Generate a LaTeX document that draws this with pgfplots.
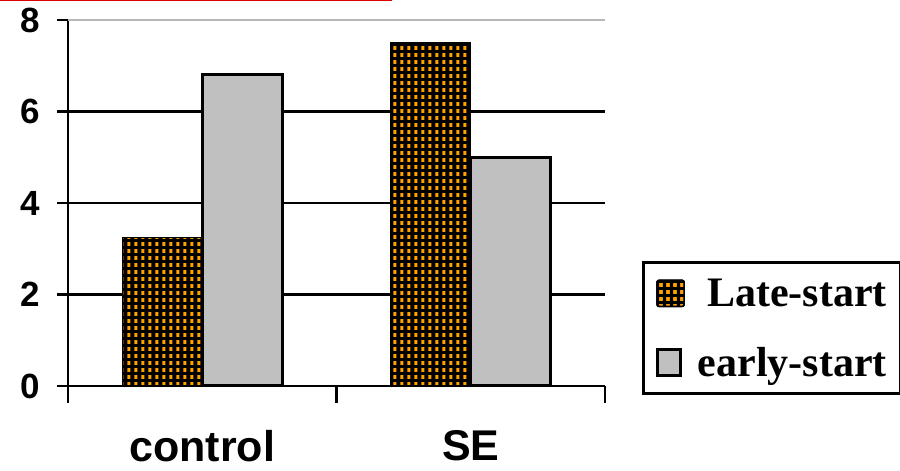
\documentclass[border=0pt]{standalone}
\usepackage{fontspec}
\setmainfont{Liberation Sans}
\newfontfamily\legfont{Liberation Serif}
\usepackage{pgfplots}
\pgfplotsset{compat=1.18}
\usetikzlibrary{patterns}
\definecolor{barorange}{RGB}{255,163,0}
\definecolor{bargray}{RGB}{192,192,192}
\definecolor{topred}{RGB}{220,0,0}
\pgfdeclarepatternformonly{orangedots}{\pgfqpoint{0pt}{0pt}}{\pgfqpoint{7pt}{6.5pt}}{\pgfqpoint{7pt}{6.5pt}}{%
  \pgfpathrectangle{\pgfqpoint{1.5pt}{1.2pt}}{\pgfqpoint{3.5pt}{4pt}}\pgfusepath{fill}}
\begin{document}
\begin{tikzpicture}
\path[use as bounding box] (0,0) rectangle (900pt,471pt);
\draw[topred, line width=1.6pt] (0,470.4pt) -- (392pt,470.4pt);
\begin{axis}[
  at={(68pt,85pt)}, anchor=south west,
  scale only axis, width=537pt, height=366pt,
  xmin=-0.5, xmax=1.5, ymin=0, ymax=8,
  enlargelimits=false,
  axis x line=bottom, axis y line=left,
  axis line style={-, line width=2.5pt},
  tick align=outside,
  major tick length=11pt,
  tick style={black, line width=2.5pt},
  xtick={-0.5,0.5,1.5}, xticklabels={},
  xtick style={/pgfplots/major tick length=17pt},
  extra x ticks={0,1}, extra x tick labels={control,SE},
  extra x tick style={major tick length=0pt, tick style={draw=none},
    tick label style={font=\bfseries\fontsize{43}{48}\selectfont, yshift=-41pt}},
  ytick={0,2,4,6},
  ymajorgrids, grid style={black, line width=2.5pt},
  extra y ticks={8},
  extra y tick style={grid style={black!28, line width=1.2pt}},
  yticklabel style={font=\bfseries\fontsize{35}{38}\selectfont, xshift=-13pt},
  /pgf/number format/assume math mode=true,
  legend cell align=right,
  legend style={at={(1.069,-0.0246)}, anchor=south west,
    draw=black, line width=3pt, fill=white,
    font=\legfont\bfseries\fontsize{42}{48}\selectfont,
    inner xsep=12pt, inner ysep=14pt, row sep=35pt,
    /tikz/every odd column/.append style={column sep=11pt},
    /tikz/every even column/.append style={column sep=14pt}},
]
\addplot[ybar, bar width=80pt, bar shift=-40pt, fill=black, draw=black, line width=1pt,
  postaction={pattern=orangedots, pattern color=barorange},
  legend image code/.code={\draw[fill=black, draw=black, line width=1.5pt, rounded corners=2pt, postaction={pattern=orangedots, pattern color=barorange}] (0pt,-13pt) rectangle (27pt,13pt);}]
  coordinates {(0,3.25) (1,7.5)};
\addplot[ybar, bar width=80pt, bar shift=40pt, fill=bargray, draw=black, line width=3pt,
  legend image code/.code={\draw[fill=bargray, draw=black, line width=3pt] (0pt,-13pt) rectangle (23pt,13pt);}]
  coordinates {(0,6.8) (1,5.0)};
\legend{Late-start, early-start}
\end{axis}
\end{tikzpicture}
\end{document}
